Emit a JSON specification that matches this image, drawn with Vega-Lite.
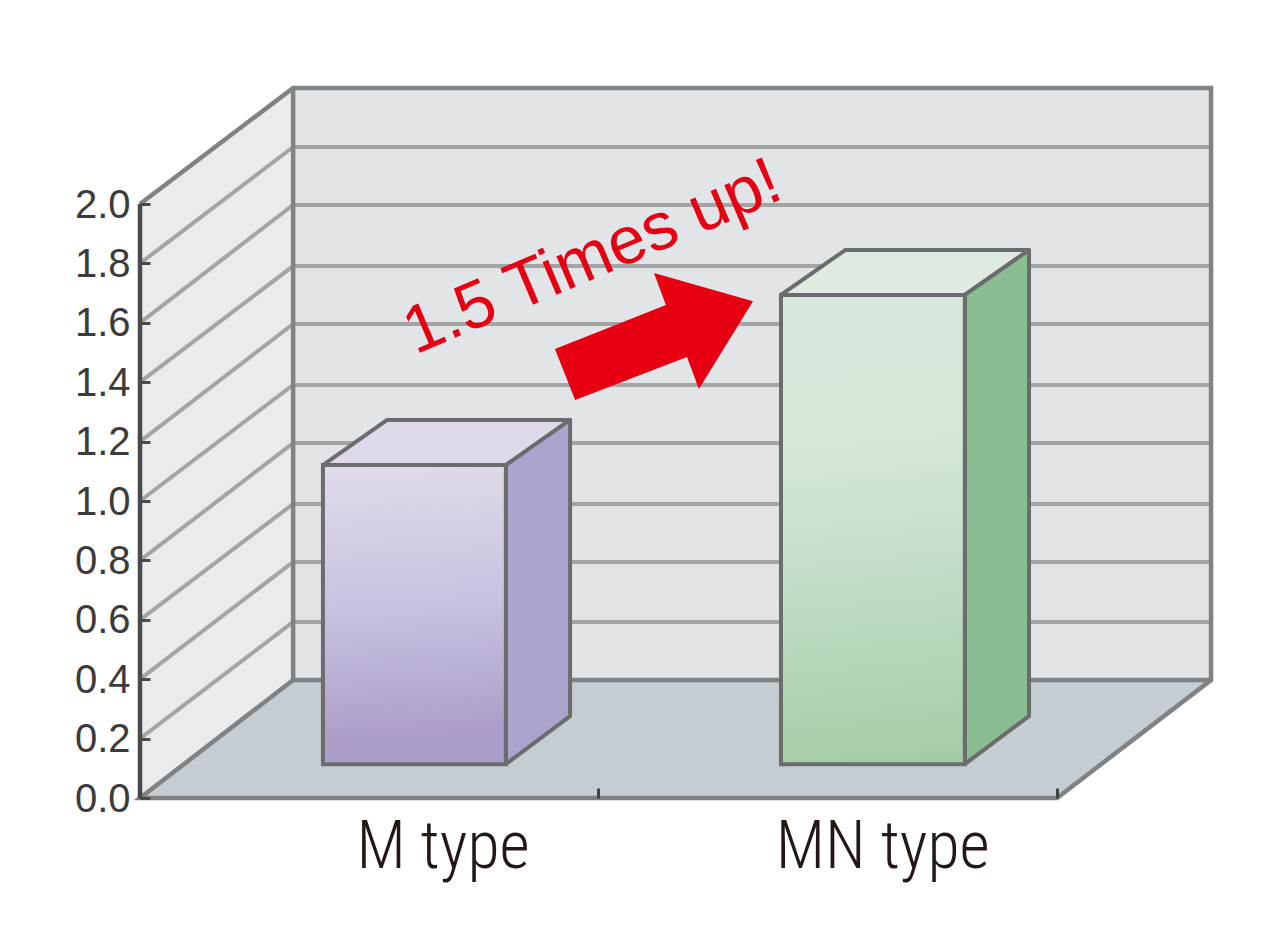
{
  "$schema": "https://vega.github.io/schema/vega-lite/v6.json",
  "width": 1145,
  "height": 798,
  "autosize": "none",
  "padding": {"left": 140, "top": 0, "right": 0, "bottom": 130},
  "background": "white",
  "config": {"view": {"stroke": null}},
  "datasets": {
    "faces": [
      {"face": "back", "n": 1, "x": 0.334, "y": 2.391}, {"face": "back", "n": 2, "x": 2.336, "y": 2.391}, {"face": "back", "n": 3, "x": 2.336, "y": 0.397}, {"face": "back", "n": 4, "x": 0.334, "y": 0.397}, {"face": "back", "n": 5, "x": 0.334, "y": 2.391},
      {"face": "left", "n": 1, "x": 0, "y": 2.0}, {"face": "left", "n": 2, "x": 0.334, "y": 2.391}, {"face": "left", "n": 3, "x": 0.334, "y": 0.397}, {"face": "left", "n": 4, "x": 0, "y": 0}, {"face": "left", "n": 5, "x": 0, "y": 2.0},
      {"face": "floor", "n": 1, "x": 0, "y": 0}, {"face": "floor", "n": 2, "x": 2, "y": 0}, {"face": "floor", "n": 3, "x": 2.336, "y": 0.397}, {"face": "floor", "n": 4, "x": 0.334, "y": 0.397}, {"face": "floor", "n": 5, "x": 0, "y": 0}
    ],
    "grid": [
      {"v": 0.2, "n": 1, "x": 0, "y": 0.2}, {"v": 0.2, "n": 2, "x": 0.334, "y": 0.593}, {"v": 0.2, "n": 3, "x": 2.336, "y": 0.593},
      {"v": 0.4, "n": 1, "x": 0, "y": 0.4}, {"v": 0.4, "n": 2, "x": 0.334, "y": 0.795}, {"v": 0.4, "n": 3, "x": 2.336, "y": 0.795},
      {"v": 0.6, "n": 1, "x": 0, "y": 0.6}, {"v": 0.6, "n": 2, "x": 0.334, "y": 0.990}, {"v": 0.6, "n": 3, "x": 2.336, "y": 0.990},
      {"v": 0.8, "n": 1, "x": 0, "y": 0.8}, {"v": 0.8, "n": 2, "x": 0.334, "y": 1.195}, {"v": 0.8, "n": 3, "x": 2.336, "y": 1.195},
      {"v": 1.0, "n": 1, "x": 0, "y": 1.0}, {"v": 1.0, "n": 2, "x": 0.334, "y": 1.391}, {"v": 1.0, "n": 3, "x": 2.336, "y": 1.391},
      {"v": 1.2, "n": 1, "x": 0, "y": 1.2}, {"v": 1.2, "n": 2, "x": 0.334, "y": 1.596}, {"v": 1.2, "n": 3, "x": 2.336, "y": 1.596},
      {"v": 1.4, "n": 1, "x": 0, "y": 1.4}, {"v": 1.4, "n": 2, "x": 0.334, "y": 1.791}, {"v": 1.4, "n": 3, "x": 2.336, "y": 1.791},
      {"v": 1.6, "n": 1, "x": 0, "y": 1.6}, {"v": 1.6, "n": 2, "x": 0.334, "y": 1.997}, {"v": 1.6, "n": 3, "x": 2.336, "y": 1.997},
      {"v": 1.8, "n": 1, "x": 0, "y": 1.8}, {"v": 1.8, "n": 2, "x": 0.334, "y": 2.192}, {"v": 1.8, "n": 3, "x": 2.336, "y": 2.192}
    ],
    "edges": [
      {"edge": "slope", "n": 1, "x": 0, "y": 2.0}, {"edge": "slope", "n": 2, "x": 0.334, "y": 2.391}, {"edge": "slope", "n": 3, "x": 2.336, "y": 2.391}, {"edge": "slope", "n": 4, "x": 2.336, "y": 0.397}, {"edge": "slope", "n": 5, "x": 2, "y": 0}, {"edge": "slope", "n": 6, "x": 0, "y": 0}, {"edge": "slope", "n": 7, "x": 0.334, "y": 0.397}, {"edge": "slope", "n": 8, "x": 2.336, "y": 0.397},
      {"edge": "corner", "n": 1, "x": 0.334, "y": 2.391}, {"edge": "corner", "n": 2, "x": 0.334, "y": 0.397}
    ],
    "boxes": [
      {"face": "M top", "n": 1, "x": 0.399, "y": 1.121}, {"face": "M top", "n": 2, "x": 0.539, "y": 1.273}, {"face": "M top", "n": 3, "x": 0.938, "y": 1.273}, {"face": "M top", "n": 4, "x": 0.798, "y": 1.121}, {"face": "M top", "n": 5, "x": 0.399, "y": 1.121},
      {"face": "M side", "n": 1, "x": 0.798, "y": 1.121}, {"face": "M side", "n": 2, "x": 0.938, "y": 1.273}, {"face": "M side", "n": 3, "x": 0.938, "y": 0.276}, {"face": "M side", "n": 4, "x": 0.798, "y": 0.114}, {"face": "M side", "n": 5, "x": 0.798, "y": 1.121},
      {"face": "MN top", "n": 1, "x": 1.398, "y": 1.694}, {"face": "MN top", "n": 2, "x": 1.538, "y": 1.845}, {"face": "MN top", "n": 3, "x": 1.939, "y": 1.845}, {"face": "MN top", "n": 4, "x": 1.799, "y": 1.694}, {"face": "MN top", "n": 5, "x": 1.398, "y": 1.694},
      {"face": "MN side", "n": 1, "x": 1.799, "y": 1.694}, {"face": "MN side", "n": 2, "x": 1.939, "y": 1.845}, {"face": "MN side", "n": 3, "x": 1.939, "y": 0.276}, {"face": "MN side", "n": 4, "x": 1.799, "y": 0.114}, {"face": "MN side", "n": 5, "x": 1.799, "y": 1.694}
    ],
    "arrow": [
      {"n": 1, "x": 0.949, "y": 1.340}, {"n": 2, "x": 0.905, "y": 1.512}, {"n": 3, "x": 1.147, "y": 1.660}, {"n": 4, "x": 1.121, "y": 1.768}, {"n": 5, "x": 1.337, "y": 1.673}, {"n": 6, "x": 1.219, "y": 1.377}, {"n": 7, "x": 1.193, "y": 1.485}
    ]
  },
  "encoding": {
    "x": {"field": "x", "type": "quantitative", "title": null, "scale": {"domain": [0, 2.4973], "nice": false, "zero": false}},
    "y": {"field": "y", "type": "quantitative", "title": null, "scale": {"domain": [0, 2.6869], "nice": false, "zero": false}}
  },
  "layer": [
    {
      "data": {"name": "faces"},
      "mark": {"type": "line", "strokeWidth": 0},
      "encoding": {
        "x": {"field": "x", "type": "quantitative", "axis": {"values": [0, 1, 2], "labels": false, "domain": false, "grid": false, "tickSize": -10, "tickWidth": 3, "tickColor": "#3f4447", "zindex": 1, "title": null}},
        "y": {"field": "y", "type": "quantitative", "axis": {"values": [0, 0.2, 0.4, 0.6, 0.8, 1.0, 1.2, 1.4, 1.6, 1.8, 2.0], "format": ".1f", "domain": false, "grid": false, "tickSize": -10, "tickWidth": 3, "tickColor": "#4a4a4a", "labelPadding": 20, "labelFontSize": 40, "labelFont": "Liberation Sans", "labelColor": "#3e3a39", "labelOffset": 1, "zindex": 1, "title": null}},
        "order": {"field": "n"},
        "detail": {"field": "face"},
        "fill": {"field": "face", "type": "nominal", "legend": null, "scale": {"domain": ["back", "left", "floor", "M top", "M side", "MN top", "MN side"], "range": ["#e1e5e8", "#e8ecee", "#c5cdd2", "#e0d9e9", "#aca4cc", "#dfebe0", "#8abd91"]}}
      }
    },
    {
      "data": {"name": "grid"},
      "mark": {"type": "line", "stroke": "#a2a4a5", "strokeWidth": 4},
      "encoding": {"order": {"field": "n"}, "detail": {"field": "v"}}
    },
    {
      "data": {"name": "edges"},
      "mark": {"type": "line", "stroke": "#808283", "strokeWidth": 4.5},
      "encoding": {"order": {"field": "n"}, "detail": {"field": "edge"}}
    },
    {
      "data": {"values": [{"x": 0, "y": 0}, {"x": 0, "y": 2.0}]},
      "mark": {"type": "line", "stroke": "#4a4a4a", "strokeWidth": 4.5},
      "encoding": {}
    },
    {
      "data": {"name": "boxes"},
      "mark": {"type": "line", "stroke": "#6b6c6e", "strokeWidth": 4, "strokeJoin": "round"},
      "encoding": {
        "order": {"field": "n"},
        "detail": {"field": "face"},
        "fill": {"field": "face", "type": "nominal", "legend": null, "scale": {"domain": ["back", "left", "floor", "M top", "M side", "MN top", "MN side"], "range": ["#e1e5e8", "#e8ecee", "#c5cdd2", "#e0d9e9", "#aca4cc", "#dfebe0", "#8abd91"]}}
      }
    },
    {
      "data": {"values": [{"group": "M type", "x": 0.399, "x2": 0.798, "y": 0.114, "y2": 1.121}]},
      "mark": {"type": "rect", "stroke": "#6b6c6e", "strokeWidth": 4, "fill": {"gradient": "linear", "x1": 0.48, "y1": 0, "x2": 0.52, "y2": 1, "stops": [{"offset": 0, "color": "#e0dae9"}, {"offset": 0.5, "color": "#c7bfdf"}, {"offset": 0.9, "color": "#ac9ec9"}, {"offset": 1, "color": "#ab9ec9"}]}},
      "encoding": {"x2": {"field": "x2"}, "y2": {"field": "y2"}}
    },
    {
      "data": {"values": [{"group": "MN type", "x": 1.398, "x2": 1.799, "y": 0.114, "y2": 1.694}]},
      "mark": {"type": "rect", "stroke": "#6b6c6e", "strokeWidth": 4, "fill": {"gradient": "linear", "x1": 0.48, "y1": 0, "x2": 0.52, "y2": 1, "stops": [{"offset": 0, "color": "#d8e7dc"}, {"offset": 0.3, "color": "#d6e7da"}, {"offset": 0.6, "color": "#c2ddc7"}, {"offset": 1, "color": "#a4cda5"}]}},
      "encoding": {"x2": {"field": "x2"}, "y2": {"field": "y2"}}
    },
    {
      "data": {"name": "arrow"},
      "mark": {"type": "line", "stroke": "#e60012", "strokeWidth": 0, "fill": "#e60012"},
      "encoding": {"order": {"field": "n"}}
    },
    {
      "data": {"values": [{"label": "1.5 Times up!", "x": 1.004, "y": 1.757}]},
      "mark": {"type": "text", "font": "Liberation Sans", "fontSize": 67, "angle": 337, "align": "center", "baseline": "alphabetic", "color": "#e60012"},
      "encoding": {"text": {"field": "label"}}
    },
    {
      "data": {"values": [{"label": "M type", "x": 0.661, "y": -0.236}, {"label": "MN type", "x": 1.62, "y": -0.236}]},
      "mark": {"type": "text", "font": "Roboto Condensed", "fontWeight": 300, "fontSize": 66, "align": "center", "baseline": "alphabetic", "color": "#231815"},
      "encoding": {"text": {"field": "label"}}
    }
  ]
}
